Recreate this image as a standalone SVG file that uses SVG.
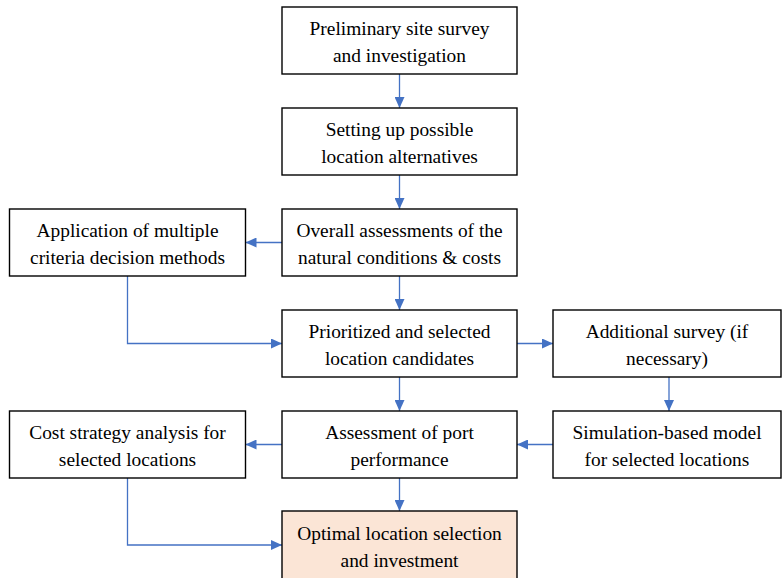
<svg xmlns="http://www.w3.org/2000/svg" width="782" height="578" viewBox="0 0 782 578">
<style>
.box{fill:#fff;stroke:#000;stroke-width:1.4}
.hl{fill:#FBE5D6}
text{font-family:"Liberation Serif","DejaVu Serif","Noto Serif",Times,serif;font-size:19.4px;fill:#000;text-anchor:middle}
.c{fill:none;stroke:#4472C4;stroke-width:1.3;marker-end:url(#ah)}
</style>
<defs>
<marker id="ah" markerUnits="userSpaceOnUse" markerWidth="12" markerHeight="10" refX="11" refY="5" orient="auto">
<path d="M0,0 L11,5 L0,10 Z" fill="#4472C4"/>
</marker>
</defs>
<g id="connectors">
<path class="c" d="M399.5,74 V108"/>
<path class="c" d="M399.5,175 V209"/>
<path class="c" d="M282,242.5 H245.5"/>
<path class="c" d="M399.5,276 V310"/>
<path class="c" d="M127.5,276 V343.5 H282"/>
<path class="c" d="M517,343.5 H553"/>
<path class="c" d="M669,377 V411"/>
<path class="c" d="M553,444.5 H517"/>
<path class="c" d="M399.5,377 V411"/>
<path class="c" d="M282,444.5 H245.5"/>
<path class="c" d="M399.5,478 V511"/>
<path class="c" d="M127.5,478 V545 H282"/>
</g>
<g id="n1"><rect class="box" x="282" y="7" width="235" height="67"/><text x="399.5" y="35">Preliminary site survey</text><text x="399.5" y="62">and investigation</text></g>
<g id="n2"><rect class="box" x="282" y="108" width="235" height="67"/><text x="399.5" y="136">Setting up possible</text><text x="399.5" y="163">location alternatives</text></g>
<g id="n3"><rect class="box" x="282" y="209" width="235" height="67"/><text x="399.5" y="237">Overall assessments of the</text><text x="399.5" y="264">natural conditions &amp; costs</text></g>
<g id="n4"><rect class="box" x="9.5" y="209" width="236" height="67"/><text x="127.5" y="237">Application of multiple</text><text x="127.5" y="264">criteria decision methods</text></g>
<g id="n5"><rect class="box" x="282" y="310" width="235" height="67"/><text x="399.5" y="338">Prioritized and selected</text><text x="399.5" y="365">location candidates</text></g>
<g id="n6"><rect class="box" x="553" y="310" width="228" height="67"/><text x="667" y="338">Additional survey (if</text><text x="667" y="365">necessary)</text></g>
<g id="n7"><rect class="box" x="282" y="411" width="235" height="67"/><text x="399.5" y="439">Assessment of port</text><text x="399.5" y="466">performance</text></g>
<g id="n8"><rect class="box" x="553" y="411" width="228" height="67"/><text x="667" y="439">Simulation-based model</text><text x="667" y="466">for selected locations</text></g>
<g id="n9"><rect class="box" x="9.5" y="411" width="236" height="67"/><text x="127.5" y="439">Cost strategy analysis for</text><text x="127.5" y="466">selected locations</text></g>
<g id="n10"><rect class="box hl" x="282" y="511" width="235" height="70"/><text x="399.5" y="540">Optimal location selection</text><text x="399.5" y="567">and investment</text></g>
</svg>
